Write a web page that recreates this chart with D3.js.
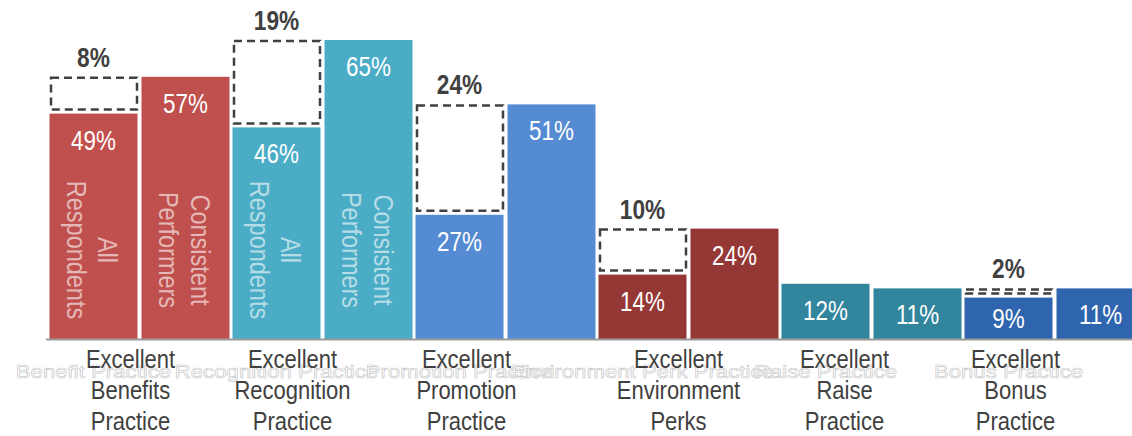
<!DOCTYPE html>
<html>
<head>
<meta charset="utf-8">
<script src="https://cdn.jsdelivr.net/npm/d3@7/dist/d3.min.js"></script>
<style>
  body { margin: 0; background: #fff; }
  text { font-family: "Liberation Sans", Arial, sans-serif; }
</style>
</head>
<body>
<div id="chart-area"></div>
<script>
// chart values
const categories = ["Benefit Practice", "Recognition Practice", "Promotion Practice",
    "Environment Perk Practice", "Raise Practice", "Bonus Practice"]
const categoryLabels = [
    ["Excellent", "Benefits", "Practice"],
    ["Excellent", "Recognition", "Practice"],
    ["Excellent", "Promotion", "Practice"],
    ["Excellent", "Environment", "Perks"],
    ["Excellent", "Raise", "Practice"],
    ["Excellent", "Bonus", "Practice"]
]
const series = ["All Respondents", "Consistent Performers"]
const allRespondents = [49, 46, 27, 14, 12, 9]
const consistentPerformers = [57, 65, 51, 24, 11, 11]
const gaps = [8, 19, 24, 10, null, 2]
const showSeriesNames = [true, true, false, false, false, false]

// styling
const COLORS = ["#C0504D", "#4BACC6", "#558BD3", "#953735", "#31859C", "#2F65AE"]
const LABEL_SHIFT = [-9, -30, -39, -10, -27, -39]
const WIDTH = 1132
const HEIGHT = 436
const BASE = 339
const DARK = "#404040"

const svg = d3.select("#chart-area").append("svg")
    .attr("width", WIDTH)
    .attr("height", HEIGHT)

// scales
const x0 = d3.scaleBand().domain(categories).range([48, 48 + 6 * 183])
const x1 = d3.scaleBand().domain(series).range([0, x0.bandwidth()])
    .paddingInner(0.0435).paddingOuter(0.0163)
const y = d3.scaleLinear().domain([0, 65]).range([BASE, 40])

const rows = categories.map((c, i) => ({
    cat: c, i: i,
    all: allRespondents[i], cons: consistentPerformers[i], gap: gaps[i]
}))

// narrow text helper: a group that is translated then squeezed sideways
function label(parent, px, py, sx, rot) {
    return parent.append("g")
        .attr("transform", `translate(${px},${py})` + (rot ? ` rotate(${rot})` : "") + ` scale(${sx},1)`)
        .append("text")
        .attr("text-anchor", "middle")
}

// ghost tick labels (hollow)
const ghost = svg.append("g")
rows.forEach(d => {
    label(ghost, x0(d.cat) + x1(series[0]) + x1.bandwidth() / 2, 378, 1.2)
        .attr("font-size", "18.5px")
        .attr("fill", "#fff")
        .attr("stroke", "#c6c6c6")
        .attr("stroke-width", 0.6)
        .text(d.cat)
})

// bars
const groups = svg.selectAll(".group").data(rows).enter().append("g")
    .attr("class", "group")
    .attr("transform", d => `translate(${x0(d.cat)},0)`)

groups.each(function (d) {
    const g = d3.select(this)
    const vals = [d.all, d.cons]
    vals.forEach((v, k) => {
        const bx = x1(series[k])
        const bw = x1.bandwidth()
        const top = y(v)
        g.append("rect")
            .attr("x", bx)
            .attr("y", top)
            .attr("width", bw)
            .attr("height", BASE - top)
            .attr("fill", COLORS[d.i])
        label(g, bx + bw / 2, Math.min(top + 36, BASE - 11), 0.8)
            .attr("font-size", "28px")
            .attr("fill", "#fff")
            .text(v + "%")
        if (showSeriesNames[d.i]) {
            const words = series[k].split(" ")
            const t = label(g, bx + bw / 2 + 5, 250, 0.87, 90)
                .attr("font-size", "27px")
                .attr("fill", "rgba(255,255,255,0.6)")
            words.forEach((w, j) => {
                t.append("tspan")
                    .attr("x", 0)
                    .attr("y", j * 32)
                    .text(w)
            })
        }
    })

    // dashed gap box
    if (d.gap !== null) {
        const bx = x1(series[0])
        const bw = x1.bandwidth()
        const top = y(d.all + d.gap)
        const bottom = y(d.all)
        g.append("rect")
            .attr("x", bx + 1.5)
            .attr("y", top + 1)
            .attr("width", bw - 2)
            .attr("height", bottom - top - 5)
            .attr("fill", "#fff")
            .attr("stroke", DARK)
            .attr("stroke-width", 2.5)
            .attr("stroke-dasharray", "8,5")
        label(g, bx + bw / 2, top - 10, 0.84)
            .attr("font-size", "27px")
            .attr("font-weight", "bold")
            .attr("fill", DARK)
            .text(d.gap + "%")
    }
})

// baseline
svg.append("line")
    .attr("x1", 46)
    .attr("x2", WIDTH)
    .attr("y1", BASE + 0.5)
    .attr("y2", BASE + 0.5)
    .attr("stroke", "#9a9a9a")
    .attr("stroke-width", 2)

// category labels
rows.forEach(d => {
    const t = label(svg, x0(d.cat) + x0.bandwidth() / 2 + LABEL_SHIFT[d.i], 0, 0.88)
        .attr("font-size", "25px")
        .attr("fill", DARK)
    categoryLabels[d.i].forEach((w, j) => {
        t.append("tspan")
            .attr("x", 0)
            .attr("y", 368 + j * 31)
            .text(w)
    })
})
</script>
</body>
</html>
